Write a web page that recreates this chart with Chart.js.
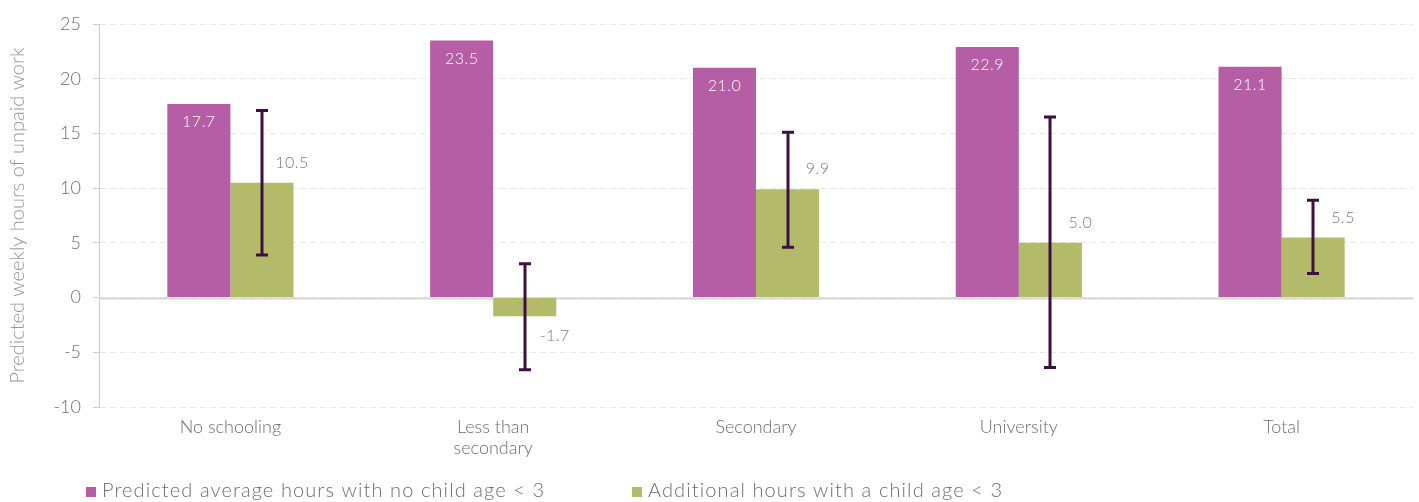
<!DOCTYPE html>
<html>
<head>
<meta charset="utf-8">
<script src="https://cdn.jsdelivr.net/npm/chart.js@4.4.1/dist/chart.umd.min.js"></script>
<style>
  html, body { margin: 0; padding: 0; background: #fff; }
  #wrap { width: 1419px; height: 502px; position: relative; }
</style>
</head>
<body>
<div id="wrap"><canvas id="unpaidChart" width="1419" height="502"></canvas></div>
<script>
(function() {
  const categories = ['No schooling', ['Less than', 'secondary'], 'Secondary', 'University', 'Total'];
  const baseHours = [17.7, 23.5, 21.0, 22.9, 21.1];
  const extraHours = [10.5, -1.7, 9.9, 5.0, 5.5];
  const extraLow = [3.9, -6.6, 4.6, -6.4, 2.2];
  const extraHigh = [17.1, 3.1, 15.1, 16.5, 8.9];
  const yTicks = [-10, -5, 0, 5, 10, 15, 20, 25];

  const PURPLE = '#b55ea5';
  const GREEN = '#b3bb6b';
  const WHISKER = '#3d1040';
  const FONT = 'Lato, "Open Sans", sans-serif';

  const canvas = document.getElementById('unpaidChart');
  if(!canvas){ console.warn('canvas missing'); return; }

  // zero line, error bars, value labels and the legend row
  const overlay = {
    id: 'overlay',
    beforeDatasetsDraw(chart){
      const { ctx, chartArea, scales: { y } } = chart;
      const zy = Math.round(y.getPixelForValue(0)) + 0.5;
      ctx.save();
      ctx.strokeStyle = '#d6d6d6';
      ctx.lineWidth = 2;
      ctx.beginPath();
      ctx.moveTo(chartArea.left, zy);
      ctx.lineTo(chartArea.right, zy);
      ctx.stroke();
      ctx.restore();
    },
    afterDatasetsDraw(chart){
      const { ctx, scales: { y } } = chart;
      const purple = chart.getDatasetMeta(0).data;
      const green = chart.getDatasetMeta(1).data;
      ctx.save();

      ctx.strokeStyle = WHISKER;
      ctx.lineWidth = 3;
      green.forEach((bar, i) => {
        const x = Math.round(bar.x);
        const top = y.getPixelForValue(extraHigh[i]);
        const bot = y.getPixelForValue(extraLow[i]);
        ctx.beginPath();
        ctx.moveTo(x, top); ctx.lineTo(x, bot);
        ctx.moveTo(x - 6, top); ctx.lineTo(x + 6, top);
        ctx.moveTo(x - 6, bot); ctx.lineTo(x + 6, bot);
        ctx.stroke();
      });

      ctx.textAlign = 'center';
      ctx.textBaseline = 'middle';
      ctx.font = '300 16px ' + FONT;
      ctx.letterSpacing = '0.5px';

      ctx.fillStyle = '#ffffff';
      purple.forEach((bar, i) => {
        ctx.fillText(baseHours[i].toFixed(1), bar.x, bar.y + 18);
      });

      ctx.fillStyle = '#7a7a7a';
      green.forEach((bar, i) => {
        const v = extraHours[i];
        const ly = v >= 0 ? bar.y - 20 : bar.y + 20;
        ctx.fillText(v.toFixed(1), bar.x + 30, ly);
      });

      ctx.textAlign = 'left';
      ctx.font = '300 20px ' + FONT;
      ctx.letterSpacing = '1.1px';
      const legendX = [86, 632];
      chart.data.datasets.forEach((ds, i) => {
        ctx.fillStyle = ds.backgroundColor;
        ctx.fillRect(legendX[i], 487, 10, 10);
        ctx.fillStyle = '#6e6e6e';
        ctx.fillText(ds.label, legendX[i] + 16, 491);
      });
      ctx.restore();
    }
  };

  new Chart(canvas.getContext('2d'), {
    type: 'bar',
    data: {
      labels: categories,
      datasets: [
        { label: 'Predicted average hours with no child age < 3', data: baseHours, backgroundColor: PURPLE },
        { label: 'Additional hours with a child age < 3', data: extraHours, backgroundColor: GREEN }
      ]
    },
    options: {
      responsive: false,
      animation: false,
      devicePixelRatio: 1,
      layout: { padding: { top: 24, right: 6, bottom: 35, left: 0 } },
      datasets: { bar: { barPercentage: 1, categoryPercentage: 0.48 } },
      scales: {
        x: {
          grid: { display: false },
          border: { display: false },
          ticks: { color: '#6e6e6e', font: { family: FONT, size: 18, weight: 300, lineHeight: 1.2 }, padding: 1, maxRotation: 0 },
          afterFit(scale){ scale.height = 60; }
        },
        y: {
          min: -10,
          max: 25,
          afterBuildTicks(scale){ scale.ticks = yTicks.map(v => ({ value: v })); },
          grid: { color: '#e6e6e6', lineWidth: 1, tickLength: 6, tickColor: '#cccccc' },
          border: { display: true, color: '#cccccc', width: 1, dash: [6, 4] },
          ticks: { color: '#6e6e6e', font: { family: FONT, size: 18, weight: 300 }, padding: 12 },
          title: {
            display: true,
            text: 'Predicted weekly hours of unpaid work',
            color: '#959595',
            font: { family: FONT, size: 20, weight: 300 },
            padding: { top: 6, bottom: 4 }
          },
          afterFit(scale){ scale.width = 99; }
        }
      },
      plugins: {
        legend: { display: false },
        tooltip: { enabled: false }
      }
    },
    plugins: [overlay]
  });
})();
</script>
</body>
</html>
